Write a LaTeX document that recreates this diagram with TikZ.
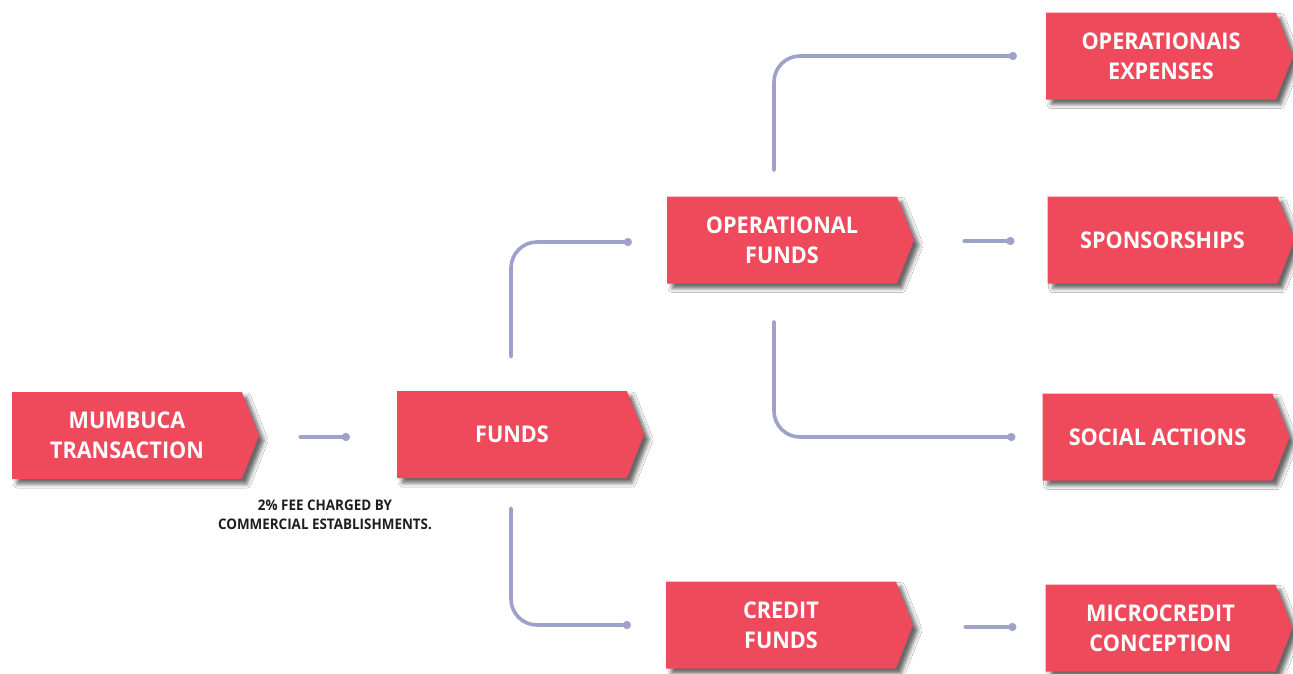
\documentclass[tikz,border=0pt]{standalone}
\usepackage{fontspec}
\setmainfont{Open Sans}
\newfontfamily\boxfont{Open Sans}[FakeStretch=0.94]
\newfontfamily\notefont{Open Sans}[FakeStretch=0.92]
\usetikzlibrary{shapes.symbols,arrows.meta,shadows.blur}
\definecolor{boxred}{HTML}{EE4A5C}
\definecolor{linkblue}{HTML}{9EA1C9}
\definecolor{notegray}{HTML}{1E1E1E}
\tikzset{
  flowbox/.style={
    shape=signal, signal to=east, signal pointer angle=137,
    minimum width=247pt, minimum height=87pt, inner sep=0pt,
    fill=boxred, draw=none, text=white, align=center,
    font=\boxfont\bfseries\fontsize{23}{30}\selectfont,
    blur shadow={shadow xshift=5pt, shadow yshift=-5pt,
                 shadow blur radius=4pt, shadow opacity=60}},
  link/.style={draw=linkblue, line width=3.6pt, line cap=round,
    rounded corners=26pt, -{Circle[length=8pt,width=8pt]}},
  note/.style={text=notegray, align=center,
    font=\notefont\bfseries\fontsize{14.6}{19}\selectfont}
}
\begin{document}
\begin{tikzpicture}[x=1pt,y=-1pt]
  \useasboundingbox[fill=white] (0,0) rectangle (1293,673);

  % boxes (positions are the centres of the rectangular bodies)
  \node[flowbox] (mumbuca) at (127,435.5)   {MUMBUCA\\TRANSACTION};
  \node[flowbox] (funds)   at (512,434.5)   {FUNDS};
  \node[flowbox] (opfunds) at (782,240)     {OPERATIONAL\\FUNDS};
  \node[flowbox] (credit)  at (781,625)     {CREDIT\\FUNDS};
  \node[flowbox] (opexp)   at (1161,56)     {OPERATIONAIS\\EXPENSES};
  \node[flowbox] (spons)   at (1162.5,240)  {SPONSORSHIPS};
  \node[flowbox] (social)  at (1157.5,437)  {SOCIAL ACTIONS};
  \node[flowbox] (micro)   at (1160.5,628)  {MICROCREDIT\\CONCEPTION};

  % fee note under the first link
  \node[note] (fee) at (325,515) {2\% FEE CHARGED BY\\COMMERCIAL ESTABLISHMENTS.};

  % connector end points
  \coordinate (m1) at ([xshift=41pt,yshift=-1.5pt]mumbuca.east);
  \coordinate (f1) at ([xshift=-47pt]funds.west);
  \coordinate (o1) at ([xshift=50pt,yshift=-1pt]opfunds.east);
  \coordinate (s1) at ([xshift=-33pt]spons.west);
  \coordinate (c1) at ([xshift=52pt,yshift=-2pt]credit.east);
  \coordinate (k1) at ([xshift=-29pt]micro.west);

  % connectors
  \draw[link] (m1) -- (m1 -| f1);
  \draw[link] ([xshift=-1pt,yshift=34pt]funds.north) |- ([xshift=-35pt,yshift=-2pt]opfunds.west);
  \draw[link] ([xshift=-1pt,yshift=-30pt]funds.south) |- ([xshift=-35pt]credit.west);
  \draw[link] ([xshift=-8pt,yshift=26pt]opfunds.north) |- ([xshift=-29pt]opexp.west);
  \draw[link] (o1) -- (o1 -| s1);
  \draw[link] ([xshift=-8pt,yshift=-38pt]opfunds.south) |- ([xshift=-27pt]social.west);
  \draw[link] (c1) -- (c1 -| k1);
\end{tikzpicture}
\end{document}
